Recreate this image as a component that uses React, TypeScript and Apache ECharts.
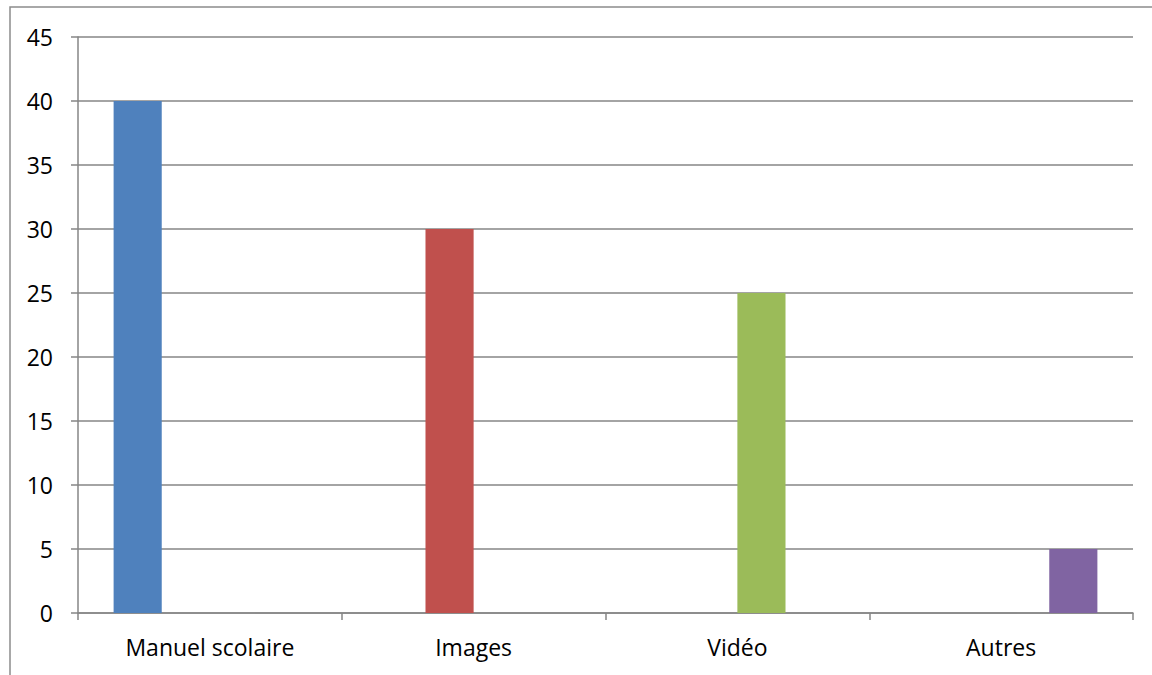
import React, { useEffect, useRef } from "react";
import * as echarts from "echarts";

const categories = ["Manuel scolaire", "Images", "Vidéo", "Autres"];
const manuelValues = [40, null, null, null];
const imagesValues = [null, 30, null, null];
const videoValues = [null, null, 25, null];
const autresValues = [null, null, null, 5];
const seriesNames = ["Manuel scolaire", "Images", "Vidéo", "Autres"];
const colors = ["#4F81BD", "#C0504D", "#9BBB59", "#8064A2"];

export default function App() {
  const ref = useRef<HTMLDivElement>(null);
  useEffect(() => {
    if (!ref.current) return;
    const chart = echarts.init(ref.current, undefined, { renderer: "svg" });
    const allData = [manuelValues, imagesValues, videoValues, autresValues];
    const font = "'Open Sans', sans-serif";
    chart.setOption({
      animation: false,
      backgroundColor: "#ffffff",
      textStyle: { fontFamily: font },
      graphic: [
        {
          type: "rect",
          shape: { x: 10, y: 7, width: 1160, height: 700 },
          style: { fill: "none", stroke: "#8c8c8c", lineWidth: 1.5 },
          silent: true,
        },
      ],
      grid: { left: 78, right: 19, top: 37, bottom: 62, containLabel: false },
      xAxis: {
        type: "category",
        data: categories,
        boundaryGap: true,
        axisLine: { show: true, lineStyle: { color: "#868686", width: 1.5 } },
        axisTick: { show: true, interval: 0, length: 7, lineStyle: { color: "#868686", width: 1.5 } },
        axisLabel: { color: "#000", fontSize: 23, margin: 22, fontFamily: font, interval: 0 },
        splitLine: { show: false },
      },
      yAxis: {
        type: "value",
        min: 0,
        max: 45,
        interval: 5,
        axisLine: { show: true, lineStyle: { color: "#868686", width: 1.5 } },
        axisTick: { show: true, length: 7, lineStyle: { color: "#868686", width: 1.5 } },
        axisLabel: { color: "#000", fontSize: 23, margin: 25, fontFamily: font },
        splitLine: { show: true, lineStyle: { color: "#868686", width: 1.5 } },
      },
      series: allData.map((d, i) => ({
        name: seriesNames[i],
        type: "bar",
        data: d,
        barGap: "0%",
        barCategoryGap: "27%",
        itemStyle: { color: colors[i] },
      })),
    });
    return () => chart.dispose();
  }, []);
  return <div ref={ref} style={{ width: 1152, height: 675, position: "absolute", left: 0, top: 0 }} />;
}
